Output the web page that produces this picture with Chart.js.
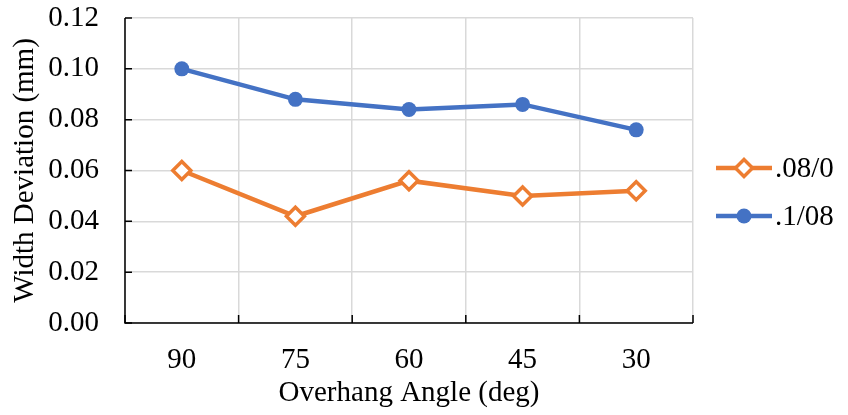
<!DOCTYPE html>
<html>
<head>
<meta charset="utf-8">
<script src="https://cdn.jsdelivr.net/npm/chart.js@4/dist/chart.umd.min.js"></script>
<style>
html,body{margin:0;padding:0;background:#fff;}
#wrap{width:848px;height:415px;position:relative;}
</style>
</head>
<body>
<div id="wrap"><canvas id="c" width="848" height="415"></canvas></div>
<script>
const categories = ["90", "75", "60", "45", "30"];
const seriesA = [0.060, 0.042, 0.056, 0.050, 0.052]; // .08/0
const seriesB = [0.100, 0.088, 0.084, 0.086, 0.076]; // .1/08
const seriesNames = [".08/0", ".1/08"];
const yTicks = [0, 0.02, 0.04, 0.06, 0.08, 0.10, 0.12];

const FONT = "'Liberation Serif', 'Times New Roman', serif";
const FS = 29;
const ORANGE = "#ED7D31";
const BLUE = "#4472C4";

const axesPlugin = {
  id: 'axesPlugin',
  afterDraw(chart) {
    const ctx = chart.ctx;
    const a = chart.chartArea;
    const ys = chart.scales.y;
    ctx.save();
    ctx.strokeStyle = '#000';
    ctx.lineWidth = 1.5;
    ctx.beginPath();
    ctx.moveTo(a.left, a.top);
    ctx.lineTo(a.left, a.bottom);
    ctx.lineTo(a.right, a.bottom);
    ctx.stroke();
    ctx.beginPath();
    yTicks.forEach(v => {
      const y = ys.getPixelForValue(v);
      ctx.moveTo(a.left, y);
      ctx.lineTo(a.left + 7, y);
    });
    const n = categories.length;
    const step = (a.right - a.left) / n;
    for (let i = 0; i <= n; i++) {
      const x = a.left + step * i;
      ctx.moveTo(x, a.bottom);
      ctx.lineTo(x, a.bottom - 8);
    }
    ctx.stroke();

    const items = chart.data.datasets;
    const ly = [168, 216];
    items.forEach((ds, i) => {
      const y = ly[i];
      ctx.strokeStyle = ds.borderColor;
      ctx.lineWidth = 4.5;
      ctx.lineCap = 'butt';
      ctx.beginPath();
      ctx.moveTo(716, y);
      ctx.lineTo(772, y);
      ctx.stroke();
      const cx = 744;
      if (ds.pointStyle === 'rectRot') {
        const r = 8.5;
        ctx.fillStyle = '#fff';
        ctx.lineWidth = 3.5;
        ctx.beginPath();
        ctx.moveTo(cx, y - r); ctx.lineTo(cx + r, y); ctx.lineTo(cx, y + r); ctx.lineTo(cx - r, y); ctx.closePath();
        ctx.fill(); ctx.stroke();
      } else {
        ctx.fillStyle = ds.borderColor;
        ctx.beginPath();
        ctx.arc(cx, y, 7.5, 0, Math.PI * 2);
        ctx.fill();
      }
      ctx.fillStyle = '#000';
      ctx.font = FS + "px " + FONT;
      ctx.textAlign = 'left';
      ctx.textBaseline = 'middle';
      ctx.fillText(ds.label, 775, y + 1);
    });
    ctx.restore();
  }
};

new Chart(document.getElementById('c'), {
  type: 'line',
  data: {
    labels: categories,
    datasets: [
      {
        label: seriesNames[0],
        data: seriesA,
        borderColor: ORANGE,
        backgroundColor: '#fff',
        borderWidth: 4.5,
        pointStyle: 'rectRot',
        pointRadius: 9,
        pointBorderWidth: 3.5,
        pointBackgroundColor: '#fff',
        pointBorderColor: ORANGE,
        tension: 0
      },
      {
        label: seriesNames[1],
        data: seriesB,
        borderColor: BLUE,
        backgroundColor: BLUE,
        borderWidth: 4.5,
        pointStyle: 'circle',
        pointRadius: 7.5,
        pointBorderWidth: 0,
        pointBackgroundColor: BLUE,
        tension: 0
      }
    ]
  },
  options: {
    responsive: false,
    animation: false,
    layout: { padding: { left: 0, right: 155, top: 18, bottom: 0 } },
    plugins: { legend: { display: false }, tooltip: { enabled: false } },
    scales: {
      x: {
        offset: true,
        grid: { offset: true, color: '#d9d9d9', lineWidth: 1.5, drawTicks: false },
        border: { display: false },
        ticks: { color: '#000', font: { family: FONT, size: FS }, padding: 20, maxRotation: 0 },
        title: { display: true, text: 'Overhang Angle (deg)', color: '#000', font: { family: FONT, size: FS }, padding: { top: 0, bottom: 4 } },
        afterFit(s) { s.height = 92; s.paddingLeft = 0; s.paddingRight = 0; }
      },
      y: {
        min: 0, max: 0.12,
        afterBuildTicks(s) { s.ticks = yTicks.map(v => ({ value: v })); },
        grid: { color: '#d9d9d9', lineWidth: 1.5, drawTicks: false },
        border: { display: false },
        ticks: { color: '#000', font: { family: FONT, size: FS }, padding: 26, callback: v => v.toFixed(2) },
        title: { display: true, text: 'Width Deviation (mm)', color: '#000', font: { family: FONT, size: FS }, padding: { top: 8, bottom: 0 } },
        afterFit(s) { s.width = 125; s.paddingTop = 0; s.paddingBottom = 0; }
      }
    }
  },
  plugins: [axesPlugin]
});
</script>
</body>
</html>
